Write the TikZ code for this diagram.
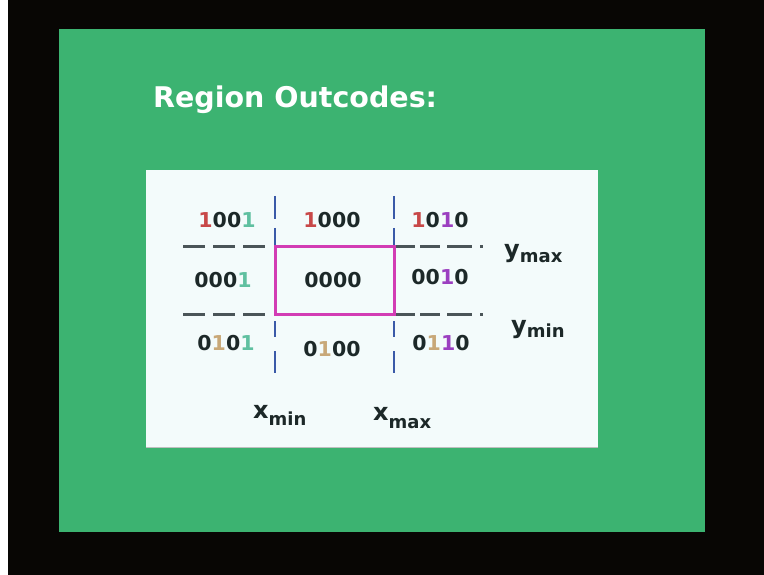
\documentclass[tikz,border=0pt]{standalone}
\usepackage{fontspec}
\setmainfont{DejaVu Sans}
\definecolor{bgblack}{HTML}{080604}
\definecolor{panelgreen}{HTML}{3CB371}
\definecolor{boxwhite}{HTML}{F3FBFB}
\definecolor{dashgray}{HTML}{4A5558}
\definecolor{dashblue}{HTML}{3A5AA8}
\definecolor{rectmag}{HTML}{D23CB4}
\definecolor{digdark}{HTML}{1C2828}
\definecolor{bitred}{HTML}{C84848}
\definecolor{bitteal}{HTML}{5FC0A0}
\definecolor{bitpurple}{HTML}{9B3FC0}
\definecolor{bittan}{HTML}{C8A878}
\newcommand\bR[1]{\textcolor{bitred}{#1}}
\newcommand\bT[1]{\textcolor{bitteal}{#1}}
\newcommand\bP[1]{\textcolor{bitpurple}{#1}}
\newcommand\bN[1]{\textcolor{bittan}{#1}}
\tikzset{
  code/.style={inner sep=0pt, text=digdark, font=\fontsize{20.5}{20.5}\selectfont\bfseries},
  axis/.style={inner sep=0pt, anchor=base west, text=digdark, font=\bfseries},
  hdash/.style={draw=dashgray, line width=3pt},
  vdash/.style={draw=dashblue, line width=2.6pt},
  window/.style={draw=rectmag, line width=3pt},
}
\newcommand\axlab[3]{{\fontsize{24}{24}\selectfont #1}\raisebox{#3}{\fontsize{18}{18}\selectfont #2}}
\begin{document}
\begin{tikzpicture}[x=1pt,y=-1pt]
\useasboundingbox (0,0) rectangle (764,575);
\fill[white] (0,0) rectangle (764,575);
\fill[bgblack] (8,0) rectangle (764,575);
\fill[panelgreen] (59,29) rectangle (705,532);
\fill[boxwhite] (146,170) rectangle (598,447);
\draw[black!25, line width=0.8pt] (146,447) -- (598,447);
\node[anchor=base west, inner sep=0pt, text=white, font=\fontsize{28.5}{28.5}\selectfont\bfseries] (title) at (153,108) {Region Outcodes:};
% horizontal dashed lines
\draw[hdash, dash pattern=on 22pt off 8pt] (183,247) -- (265,247);
\draw[hdash, dash pattern=on 21pt off 5pt on 20pt off 7pt on 25pt off 8pt on 3pt off 10pt] (394,247) -- (483,247);
\draw[hdash, dash pattern=on 22pt off 8pt] (183,314) -- (265,314);
\draw[hdash, dash pattern=on 21pt off 5pt on 20pt off 7pt on 25pt off 8pt on 3pt off 10pt] (394,314) -- (483,314);
% vertical dashed lines
\foreach \xx in {275,394}{
  \draw[vdash] (\xx,196) -- (\xx,219);
  \draw[vdash] (\xx,228) -- (\xx,247);
  \draw[vdash] (\xx,321) -- (\xx,337);
  \draw[vdash] (\xx,351) -- (\xx,373);
}
% clip window
\draw[window] (275,247) rectangle (394,314);
% codes
\node[code] (c1001) at (227,220) {\bR{1}00\bT{1}};
\node[code] (c1000) at (332,220) {\bR{1}000};
\node[code] (c1010) at (440,220) {\bR{1}0\bP{1}0};
\node[code] (c0001) at (223,280) {000\bT{1}};
\node[code] (c0000) at (333,280) {0000};
\node[code] (c0010) at (440,277) {00\bP{1}0};
\node[code] (c0101) at (226,343) {0\bN{1}0\bT{1}};
\node[code] (c0100) at (332,349) {0\bN{1}00};
\node[code] (c0110) at (441,343) {0\bN{1}\bP{1}0};
% axis labels
\node[axis] (ymax) at (504,258) {\axlab{y}{max}{-5pt}};
\node[axis] (ymin) at (511,333) {\axlab{y}{min}{-5pt}};
\node[axis] (xmin) at (253,418) {\axlab{x}{min}{-7pt}};
\node[axis] (xmax) at (373,420) {\axlab{x}{max}{-8pt}};
\end{tikzpicture}
\end{document}
